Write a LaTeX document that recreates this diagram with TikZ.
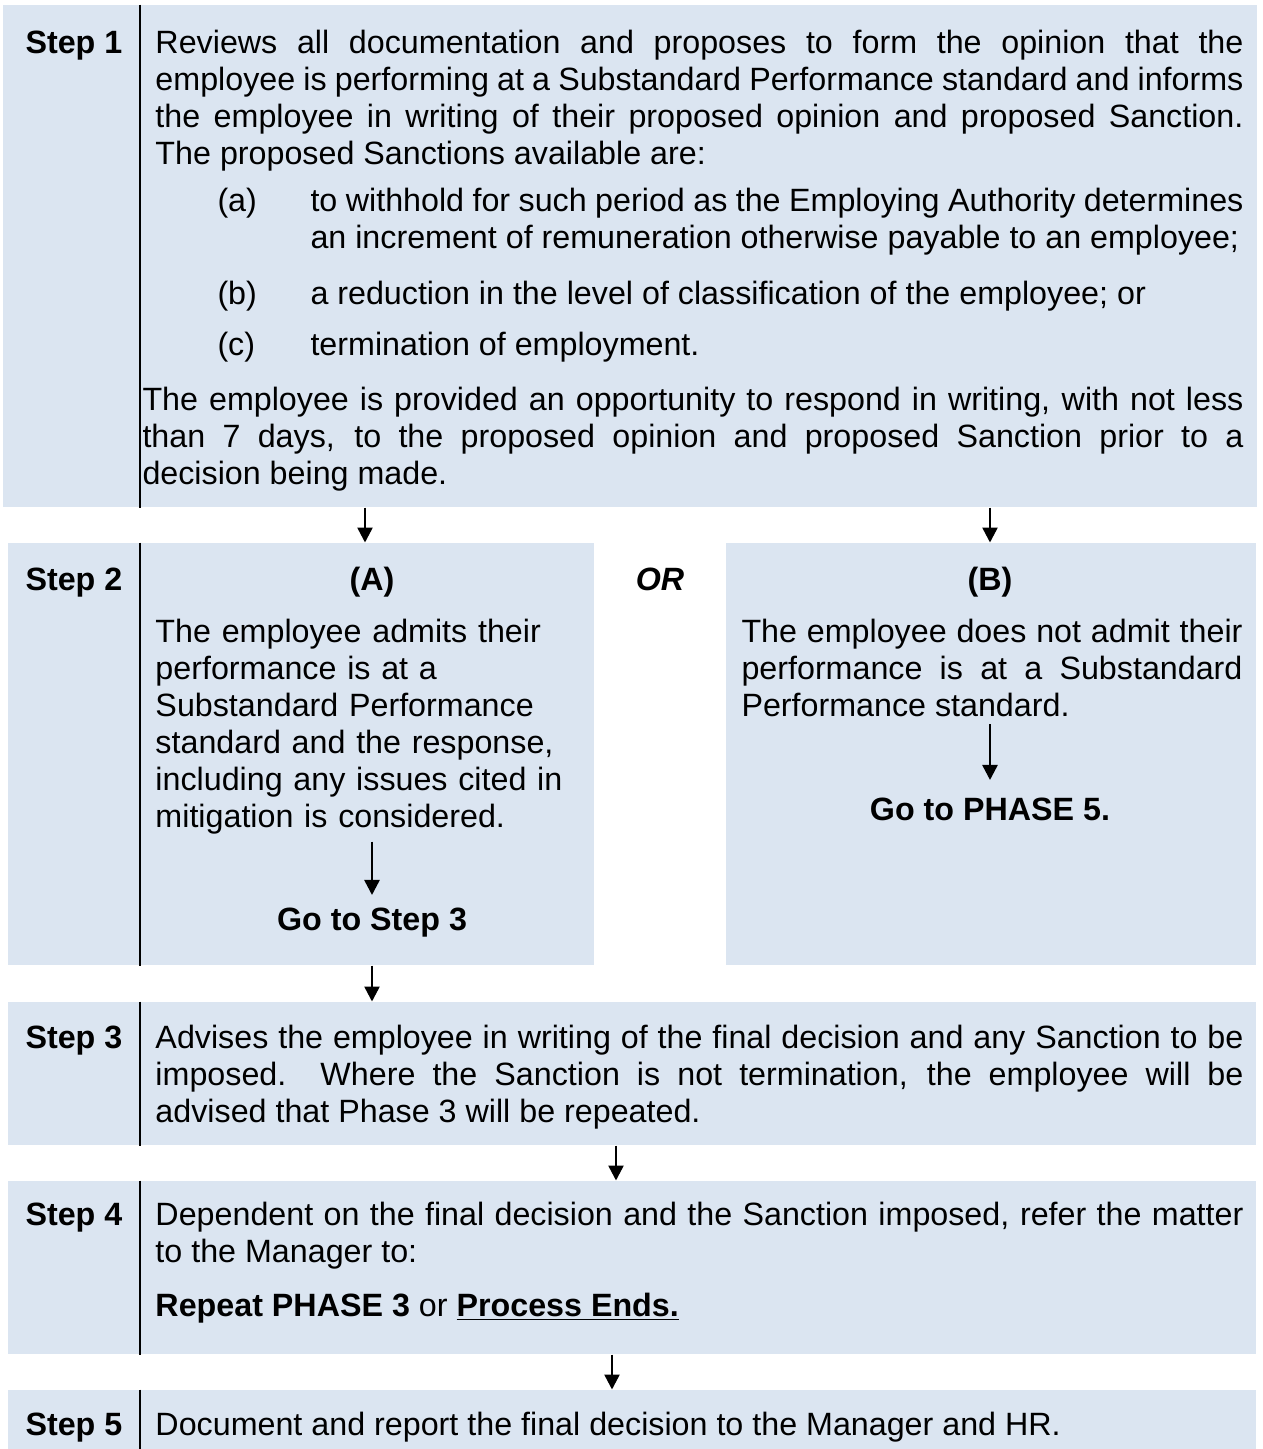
\documentclass[tikz,border=0pt]{standalone}
\usepackage{fontspec}
\setmainfont{Liberation Sans}
\usepackage{tikz}
\usetikzlibrary{arrows.meta}
\usetikzlibrary{fit}
\definecolor{stepblue}{HTML}{DBE5F1}
\newcommand{\bodyfont}{\fontsize{12.9}{14.8}\selectfont}
\hyphenpenalty=10000
\exhyphenpenalty=10000

\begin{document}
\begin{tikzpicture}
	[x=0.4pt,y=-0.4pt,every node/.style={inner sep=0pt,font=\bodyfont},
	stepbox/.style={fill=stepblue},
	steplabel/.style={anchor=base west,font=\bodyfont\bfseries},
	body/.style={anchor=base west,text width=#1,align=justify},
	ragged/.style={anchor=base west,text width=#1,align=left},
	head/.style={anchor=base,font=\bodyfont\bfseries},
	arr/.style={line width=1pt,-{Triangle[width=6pt,length=6pt]}},
	divider/.style={line width=0.8pt}]
	\useasboundingbox (0,0) rectangle (1263,1449);

	% shaded rows
	\node[stepbox,fit={(3,5) (1257,507)}] (s1) {};
	\node[stepbox,fit={(8,543) (594,965)}] (s2a) {};
	\node[stepbox,fit={(726,543) (1256,965)}] (s2b) {};
	\node[stepbox,fit={(8,1002) (1256,1145)}] (s3) {};
	\node[stepbox,fit={(8,1181) (1256,1354)}] (s4) {};
	\node[stepbox,fit={(8,1390) (1256,1449)}] (s5) {};

	\foreach \b in {s1,s2a,s3,s4,s5}
	\draw[divider] (140,0 |- \b.north) -- (140,0 |- \b.south);

	% step 1
	\node[steplabel] (l1) at (25,53) {Step 1};
	\node[body=435.2pt] (p1) at (155,53) {Reviews all documentation and proposes to form the opinion that the\linebreak employee is performing at a Substandard Performance standard and informs\linebreak the employee in writing of their proposed opinion and proposed Sanction.\linebreak The proposed Sanctions available are:};
	\node[anchor=base west] (ia) at (217,211) {(a)};
	\node[body=373.2pt] (ta) at (310,211) {to withhold for such period as the Employing Authority determines\linebreak an increment of remuneration otherwise payable to an employee;};
	\node[anchor=base west] (ib) at (217,304) {(b)};
	\node[body=373.2pt] (tb) at (310,304) {a reduction in the level of classification of the employee; or};
	\node[anchor=base west] (ic) at (217,355) {(c)};
	\node[body=373.2pt] (tc) at (310,355) {termination of employment.};
	\node[body=440.4pt] (p2) at (142,410) {The employee is provided an opportunity to respond in writing, with not less\linebreak than 7 days, to the proposed opinion and proposed Sanction prior to a\linebreak decision being made.};

	% step 2
	\node[steplabel] (l2) at (25,590) {Step 2};
	\node[head] (ha) at (372,590) {(A)};
	\node[head,font=\bodyfont\bfseries\itshape] (or) at (660,590) {OR};
	\node[head] (hb) at (990,590) {(B)};
	\node[ragged=176pt] (atext) at (155,642) {The employee admits their\\ performance is at a\\ Substandard Performance\\ standard and the response,\\ including any issues cited in\\ mitigation is considered.};
	\node[head] (go3) at (372,930) {Go to Step 3};
	\node[body=200.4pt] (btext) at (741,642) {The employee does not admit their\linebreak performance is at a Substandard\linebreak Performance standard.};
	\node[head] (go5) at (990,820) {Go to PHASE 5.};

	% step 3
	\node[steplabel] (l3) at (25,1048) {Step 3};
	\node[body=435.2pt] (p3) at (155,1048) {Advises the employee in writing of the final decision and any Sanction to be\linebreak imposed.\ \ Where the Sanction is not termination, the employee will be\linebreak advised that Phase 3 will be repeated.};

	% step 4
	\node[steplabel] (l4) at (25,1225) {Step 4};
	\node[body=435.2pt] (p4) at (155,1225) {Dependent on the final decision and the Sanction imposed, refer the matter\linebreak to the Manager to:};
	\node[anchor=base west] (p4b) at (155,1316) {\textbf{Repeat PHASE 3} or \textbf{\underline{Process Ends.}}};

	% step 5
	\node[steplabel] (l5) at (25,1435) {Step 5};
	\node[anchor=base west] (p5) at (155,1435) {Document and report the final decision to the Manager and HR.};

	\foreach \from/\to/\x in {s1/s2a/365, s1/s2b/990, s2a/s3/372, s3/s4/616, s4/s5/612}
	\draw[arr] (\x,0 |- \from.south) -- (\x,0 |- \to.north);

	\draw[arr,shorten <=3pt,shorten >=4.8pt] (atext.south -| go3.north) -- (go3.north);
	\draw[arr,shorten <=3pt,shorten >=6.8pt] (btext.south -| go5.north) -- (go5.north);
\end{tikzpicture}
\end{document}
